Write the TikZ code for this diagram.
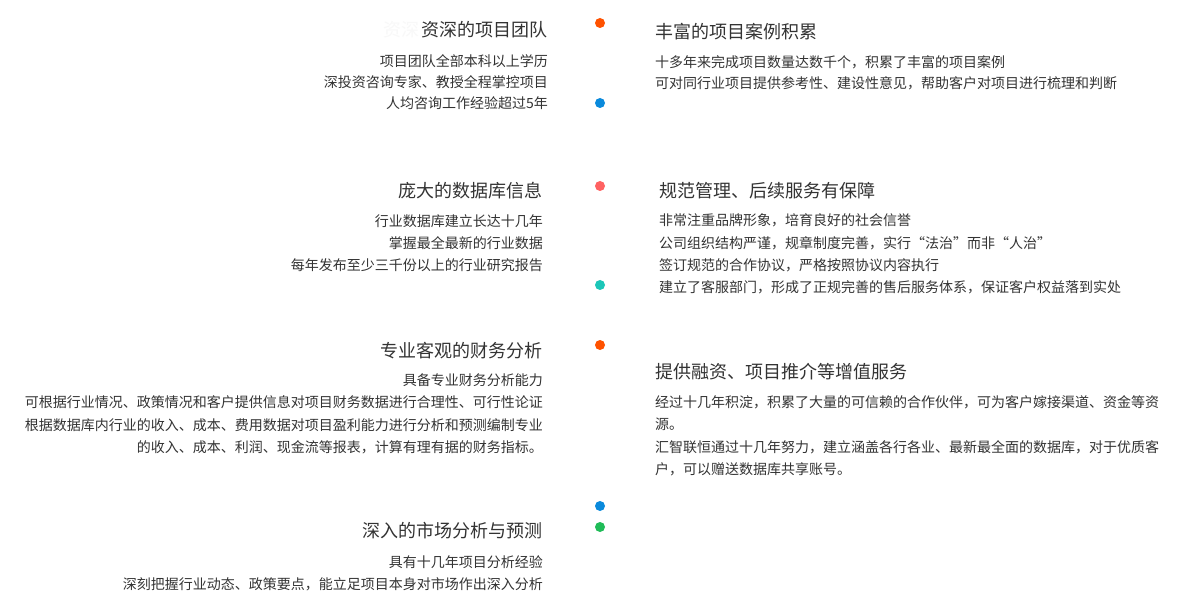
\documentclass[tikz,border=0pt]{standalone}
\usepackage{fontspec}
\setmainfont{Noto Sans CJK SC}
\definecolor{txt}{HTML}{333333}
\definecolor{ghost}{HTML}{F8F8F8}
\definecolor{dorange}{HTML}{FF5200}
\definecolor{dblue}{HTML}{0A8ADC}
\definecolor{dsalmon}{HTML}{FF6262}
\definecolor{dteal}{HTML}{1CC6B8}
\definecolor{dgreen}{HTML}{20BC58}
\begin{document}
\begin{tikzpicture}[x=1pt,y=-1pt,
  ltitle/.style={anchor=east,inner sep=0pt,text=txt,font=\fontsize{18}{20}\selectfont},
  rtitle/.style={anchor=west,inner sep=0pt,text=txt,font=\fontsize{18}{20}\selectfont},
  lbody/.style={anchor=east,inner sep=0pt,text=txt,font=\fontsize{14}{16}\selectfont},
  rbody/.style={anchor=west,inner sep=0pt,text=txt,font=\fontsize{14}{16}\selectfont},
  dot/.style={circle,inner sep=0pt,minimum size=10pt,fill=#1}]
\useasboundingbox[fill=white] (0,0) rectangle (1202,612);
% dots
\node[dot=dorange] (d1) at (600,23) {};
\node[dot=dblue] (d2) at (600,103) {};
\node[dot=dsalmon] (d3) at (600,186) {};
\node[dot=dteal] (d4) at (600,285) {};
\node[dot=dorange] (d5) at (600,345) {};
\node[dot=dblue] (d6) at (600,506) {};
\node[dot=dgreen] (d7) at (600,527) {};
% section 1 left
\node[ltitle,text=ghost] (g1) at (420,30) {资深};
\node[ltitle] (t1) at (548,30) {资深的项目团队};
\node[lbody] (l11) at (548,61) {项目团队全部本科以上学历};
\node[lbody] (l12) at (548,82) {深投资咨询专家、教授全程掌控项目};
\node[lbody] (l13) at (548,103) {人均咨询工作经验超过5年};
% section 1 right
\node[rtitle] (t2) at (655,32) {丰富的项目案例积累};
\node[rbody] (r11) at (655,62) {十多年来完成项目数量达数千个，积累了丰富的项目案例};
\node[rbody] (r12) at (655,83) {可对同行业项目提供参考性、建设性意见，帮助客户对项目进行梳理和判断};
% section 2 left
\node[ltitle] (t3) at (543,191) {庞大的数据库信息};
\node[lbody] (l21) at (543,221) {行业数据库建立长达十几年};
\node[lbody] (l22) at (543,243) {掌握最全最新的行业数据};
\node[lbody] (l23) at (543,265) {每年发布至少三千份以上的行业研究报告};
% section 2 right
\node[rtitle] (t4) at (659,191) {规范管理、后续服务有保障};
\node[rbody] (r21) at (659,220) {非常注重品牌形象，培育良好的社会信誉};
\node[rbody] (r22) at (659,243) {公司组织结构严谨，规章制度完善，实行“法治”而非“人治”};
\node[rbody] (r23) at (659,265) {签订规范的合作协议，严格按照协议内容执行};
\node[rbody] (r24) at (659,287) {建立了客服部门，形成了正规完善的售后服务体系，保证客户权益落到实处};
% section 3 left
\node[ltitle] (t5) at (543,351) {专业客观的财务分析};
\node[lbody] (l31) at (543,380) {具备专业财务分析能力};
\node[lbody] (l32) at (543,402) {可根据行业情况、政策情况和客户提供信息对项目财务数据进行合理性、可行性论证};
\node[lbody] (l33) at (543,425) {根据数据库内行业的收入、成本、费用数据对项目盈利能力进行分析和预测编制专业};
\node[lbody] (l34) at (543,447) {的收入、成本、利润、现金流等报表，计算有理有据的财务指标。};
% section 3 right
\node[rtitle] (t6) at (655,372) {提供融资、项目推介等增值服务};
\node[rbody] (r31) at (655,402) {经过十几年积淀，积累了大量的可信赖的合作伙伴，可为客户嫁接渠道、资金等资};
\node[rbody] (r32) at (655,424) {源。};
\node[rbody] (r33) at (655,447) {汇智联恒通过十几年努力，建立涵盖各行各业、最新最全面的数据库，对于优质客};
\node[rbody] (r34) at (655,469) {户，可以赠送数据库共享账号。};
% section 4 left
\node[ltitle] (t7) at (543,531) {深入的市场分析与预测};
\node[lbody] (l41) at (543,562) {具有十几年项目分析经验};
\node[lbody] (l42) at (543,584) {深刻把握行业动态、政策要点，能立足项目本身对市场作出深入分析};
\end{tikzpicture}
\end{document}
